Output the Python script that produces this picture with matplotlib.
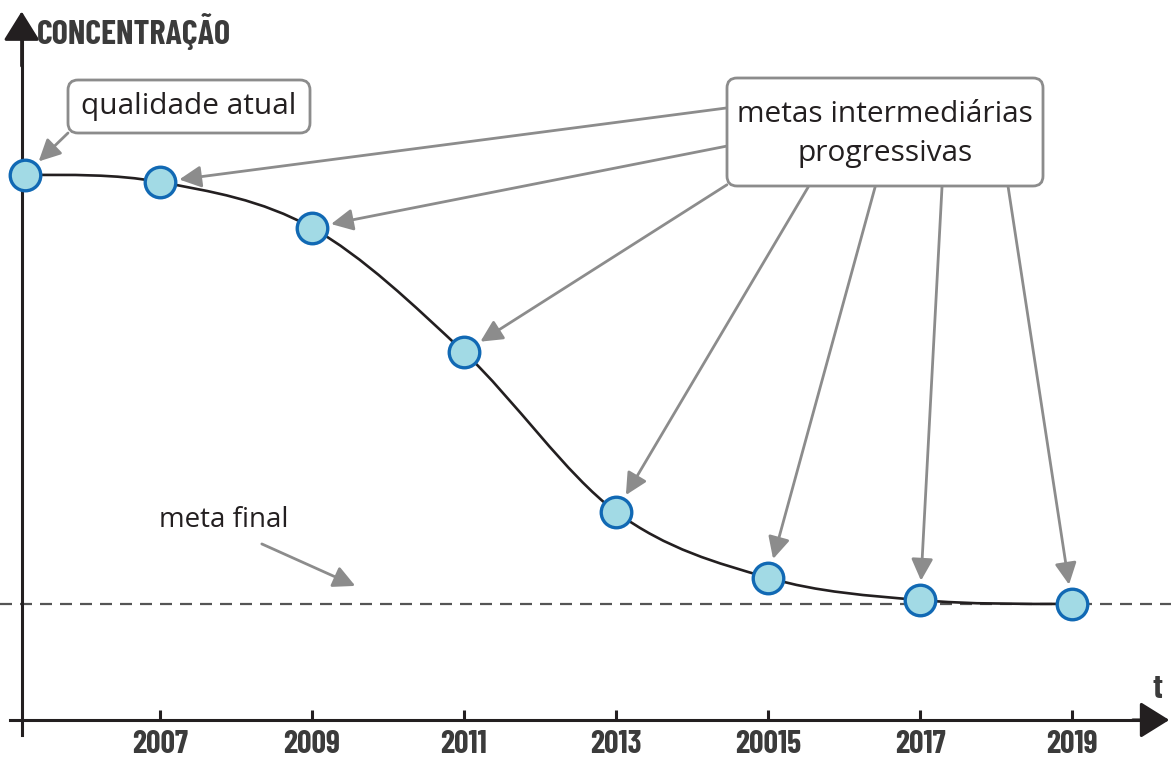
import matplotlib
matplotlib.use("Agg")
import matplotlib.pyplot as plt
from matplotlib.path import Path
from matplotlib.patches import PathPatch, FancyBboxPatch

# dados (anos e concentração em unidades arbitrárias)
anos = [2005.22, 2007, 2009, 2011, 2013, 2015, 2017, 2019]
concentracao = [100.0, 98.7, 90.3, 67.5, 38.2, 26.1, 22.0, 21.3]
meta_final = 21.3
ticks_anos = [2007, 2009, 2011, 2013, 2015, 2017, 2019]
ticks_rotulos = ["2007", "2009", "2011", "2013", "20015", "2017", "2019"]

preto = "#231f20"
cinza = "#8c8c8c"
fonte = ["Open Sans", "DejaVu Sans"]
fonte_bold = ["Barlow Condensed", "DejaVu Sans"]

fig = plt.figure(figsize=(11.71, 7.65), dpi=100)
ax = fig.add_axes([0, 0, 1, 1])
ax.set_xlim(2004.895, 2020.303)
ax.set_ylim(-8.26, 132.1)
ax.patch.set_visible(False)

# eixos
for s in ["top", "right"]:
    ax.spines[s].set_visible(False)
ax.spines["left"].set_position(("data", 2005.18))
ax.spines["left"].set_bounds(-2.75, 126)
ax.spines["bottom"].set_position(("data", 0))
ax.spines["bottom"].set_bounds(2005.03, 2020.0)
for s in ["left", "bottom"]:
    ax.spines[s].set_linewidth(2.2)
    ax.spines[s].set_color(preto)
ax.set_yticks([])
ax.set_xticks(ticks_anos)
ax.set_xticklabels(ticks_rotulos)
ax.tick_params(axis="x", direction="in", length=7, width=2.2, color=preto, pad=7)
for lab in ax.get_xticklabels():
    lab.set_fontfamily(fonte_bold)
    lab.set_fontweight("bold")
    lab.set_fontsize(23)
    lab.set_color("#3b3b3b")

seta_eixo = dict(arrowstyle="-|>,head_length=0.45,head_width=0.28", mutation_scale=40,
                 lw=2.2, color=preto, shrinkA=0, shrinkB=0)
ax.annotate("", xy=(2005.18, 130.0), xytext=(2005.18, 120), arrowprops=seta_eixo,
            annotation_clip=False)
ax.annotate("", xy=(2020.28, 0), xytext=(2019.8, 0), arrowprops=seta_eixo,
            annotation_clip=False)

ax.text(2005.38, 126.4, "CONCENTRAÇÃO", fontfamily=fonte_bold, fontweight="bold",
        fontsize=24.5, color="#3b3b3b", va="center", ha="left")
ax.text(2020.13, 5.6, "t", fontfamily=fonte_bold, fontweight="bold",
        fontsize=24.5, color="#3b3b3b", va="center", ha="center")

# meta final
ax.axhline(meta_final, color="#555555", lw=1.6, dashes=(5.4, 3.6), zorder=1)

# curva suave (Hermite desenhada como Bézier)
n = len(anos)
m = [0.0] * n
for i in range(1, n - 1):
    m[i] = (concentracao[i + 1] - concentracao[i - 1]) / (anos[i + 1] - anos[i - 1])
verts = [(anos[0], concentracao[0])]
codes = [Path.MOVETO]
for i in range(n - 1):
    h = (anos[i + 1] - anos[i]) / 3
    verts += [(anos[i] + h, concentracao[i] + h * m[i]),
              (anos[i + 1] - h, concentracao[i + 1] - h * m[i + 1]),
              (anos[i + 1], concentracao[i + 1])]
    codes += [Path.CURVE4] * 3
ax.add_patch(PathPatch(Path(verts, codes), fill=False, lw=1.9, edgecolor=preto, zorder=2))

ax.plot(anos, concentracao, "o", ms=22, mfc="#a2dae5", mec="#1169b4", mew=2.4,
        zorder=4, clip_on=False)

# caixas de texto
caixa = dict(boxstyle="round,pad=0,rounding_size=0.1", fc="white", ec=cinza, lw=2,
             transform=fig.dpi_scale_trans, zorder=5)
ax.add_patch(FancyBboxPatch((0.68, 6.32), 2.42, 0.53, **caixa))
ax.add_patch(FancyBboxPatch((7.27, 5.79), 3.16, 1.08, **caixa))
fig.text(1.89, 6.585, "qualidade atual", transform=fig.dpi_scale_trans, fontfamily=fonte,
         fontsize=21.5, color=preto, ha="center", va="center", zorder=6)
fig.text(8.85, 6.31, "metas intermediárias\nprogressivas", transform=fig.dpi_scale_trans,
         fontfamily=fonte, fontsize=21.5, color=preto, ha="center", va="center",
         linespacing=1.42, zorder=6)
fig.text(2.24, 2.45, "meta final", transform=fig.dpi_scale_trans, fontfamily=fonte,
         fontsize=20, color=preto, ha="center", va="center")

# setas
seta = dict(arrowstyle="-|>,head_length=0.6,head_width=0.3", mutation_scale=22,
            lw=2, color=cinza, shrinkA=0, shrinkB=14)
ax.annotate("", xy=(anos[0], concentracao[0]), xytext=(2005.79, 107.7), arrowprops=seta)
origens = [(2014.46, 112.3), (2014.46, 105.3), (2014.46, 98.2), (2015.53, 97.8),
           (2016.41, 97.8), (2017.29, 97.8), (2018.16, 97.8)]
for i, orig in enumerate(origens):
    ax.annotate("", xy=(anos[i + 1], concentracao[i + 1]), xytext=orig,
                arrowprops=seta)
ax.annotate("", xy=(2009.57, 24.6), xytext=(2008.34, 32.3),
            arrowprops=dict(seta, shrinkB=0))

fig.savefig("out.png", dpi=100)
